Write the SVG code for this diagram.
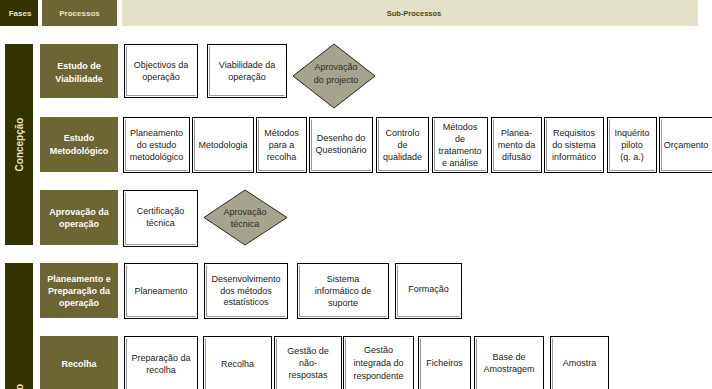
<svg xmlns="http://www.w3.org/2000/svg" width="712" height="389" viewBox="0 0 712 389">
<style>
.ph{fill:#333300}
.pr{fill:#6b6633}
.b{fill:#fff;stroke:#000;stroke-width:1}
.sh{fill:none;stroke:#999;stroke-width:1}
.d{fill:#a6a48e;stroke:#2a2a1a;stroke-width:1}
text{font-family:"Liberation Sans",Arial,sans-serif;text-anchor:middle}
.t{font-size:9px;fill:#222}
.dt{font-size:9px;fill:#2a2a2a}
.pl{font-size:9px;font-weight:bold;fill:#fff}
.ht{font-size:8px;font-weight:bold;fill:#e6e4c8}
.hs{font-size:7.5px;font-weight:bold;fill:#4a4920}
.pt{font-size:10px;font-weight:bold;fill:#e6e4c8}
</style>
<g id="header">
<rect class="ph" x="0" y="0" width="38" height="26"/>
<text class="ht" x="20" y="16">Fases</text>
<rect class="pr" x="42" y="0" width="75" height="26"/>
<text class="ht" x="79.5" y="16">Processos</text>
<rect x="122" y="0" width="576" height="26" fill="#e2e0c6"/>
<text class="hs" x="414" y="16">Sub-Processos</text>
</g>
<g id="phase-concepcao">
<rect class="ph" x="5" y="44" width="28" height="201"/>
<text class="pt" transform="translate(23,144.5) rotate(-90)">Concepção</text>
</g>
<g id="phase-2">
<rect class="ph" x="5" y="263" width="28" height="140"/>
<text class="pt" style="text-anchor:start" transform="translate(23,390) rotate(-90)">o</text>
</g>
<g id="p-viab"><rect class="pr" x="40" y="44" width="78" height="54"/><text class="pl" x="79" y="68.5">Estudo de</text><text class="pl" x="79" y="82">Viabilidade</text></g>
<g id="p-metod"><rect class="pr" x="40" y="117" width="78" height="55"/><text class="pl" x="79" y="141">Estudo</text><text class="pl" x="79" y="154">Metodológico</text></g>
<g id="p-aprov"><rect class="pr" x="40" y="190" width="78" height="55"/><text class="pl" x="79" y="215">Aprovação da</text><text class="pl" x="79" y="227">operação</text></g>
<g id="p-plan"><rect class="pr" x="40" y="263" width="78" height="55"/><text class="pl" x="79" y="282">Planeamento e</text><text class="pl" x="79" y="294">Preparação da</text><text class="pl" x="79" y="305.5">operação</text></g>
<g id="p-recolha"><rect class="pr" x="40" y="336" width="78" height="60"/><text class="pl" x="79" y="367">Recolha</text></g>

<g id="s-objectivos"><rect class="b" x="124.5" y="44.5" width="73" height="53"/><path class="sh" d="M126.5,46.5V95.5H195.5"/><text class="t" x="161" y="68">Objectivos da</text><text class="t" x="161" y="80">operação</text></g>
<g id="s-viabilidade"><rect class="b" x="207.5" y="44.5" width="79" height="53"/><path class="sh" d="M209.5,46.5V95.5H284.5"/><text class="t" x="247" y="68">Viabilidade da</text><text class="t" x="247" y="80">operação</text></g>
<g id="s-aprov-projecto"><polygon class="d" points="293,76 334,44 375,76 334,108"/><text class="dt" x="336" y="70">Aprovação</text><text class="dt" x="336" y="83">do projecto</text></g>

<g id="s-planeamento-estudo"><rect class="b" x="123.5" y="117.5" width="66" height="55"/><path class="sh" d="M125.5,119.5V170.5H187.5"/><text class="t" x="156.5" y="136">Planeamento</text><text class="t" x="156.5" y="148">do estudo</text><text class="t" x="156.5" y="160">metodológico</text></g>
<g id="s-metodologia"><rect class="b" x="192.5" y="117.5" width="61" height="55"/><path class="sh" d="M194.5,119.5V170.5H251.5"/><text class="t" x="223" y="148">Metodologia</text></g>
<g id="s-metodos-recolha"><rect class="b" x="256.5" y="117.5" width="50" height="55"/><path class="sh" d="M258.5,119.5V170.5H304.5"/><text class="t" x="281.5" y="136">Métodos</text><text class="t" x="281.5" y="148">para a</text><text class="t" x="281.5" y="160">recolha</text></g>
<g id="s-desenho"><rect class="b" x="309.5" y="117.5" width="63" height="55"/><path class="sh" d="M311.5,119.5V170.5H370.5"/><text class="t" x="341" y="141">Desenho do</text><text class="t" x="341" y="153">Questionário</text></g>
<g id="s-controlo"><rect class="b" x="376.5" y="117.5" width="52" height="55"/><path class="sh" d="M378.5,119.5V170.5H426.5"/><text class="t" x="402.5" y="136">Controlo</text><text class="t" x="402.5" y="148">de</text><text class="t" x="402.5" y="160">qualidade</text></g>
<g id="s-tratamento"><rect class="b" x="432.5" y="117.5" width="55" height="55"/><path class="sh" d="M434.5,119.5V170.5H485.5"/><text class="t" x="460" y="130">Métodos</text><text class="t" x="460" y="142">de</text><text class="t" x="460" y="154">tratamento</text><text class="t" x="460" y="166">e análise</text></g>
<g id="s-difusao"><rect class="b" x="491.5" y="117.5" width="50" height="55"/><path class="sh" d="M493.5,119.5V170.5H539.5"/><text class="t" x="516.5" y="136">Planea-</text><text class="t" x="516.5" y="148">mento da</text><text class="t" x="516.5" y="160">difusão</text></g>
<g id="s-requisitos"><rect class="b" x="544.5" y="117.5" width="59" height="55"/><path class="sh" d="M546.5,119.5V170.5H601.5"/><text class="t" x="574" y="136">Requisitos</text><text class="t" x="574" y="148">do sistema</text><text class="t" x="574" y="160">informático</text></g>
<g id="s-piloto"><rect class="b" x="607.5" y="117.5" width="49" height="55"/><path class="sh" d="M609.5,119.5V170.5H654.5"/><text class="t" x="632" y="136">Inquérito</text><text class="t" x="632" y="148">piloto</text><text class="t" x="632" y="160">(q. a.)</text></g>
<g id="s-orcamento"><rect class="b" x="659.5" y="117.5" width="60" height="55"/><path class="sh" d="M661.5,119.5V170.5H717"/><text class="t" x="686" y="148">Orçamento</text></g>

<g id="s-certificacao"><rect class="b" x="123.5" y="190.5" width="74" height="56"/><path class="sh" d="M125.5,192.5V244.5H195.5"/><text class="t" x="160.5" y="214">Certificação</text><text class="t" x="160.5" y="226">técnica</text></g>
<g id="s-aprov-tecnica"><polygon class="d" points="204,217.5 245,190 287,217.5 245,245"/><text class="dt" x="245" y="215">Aprovação</text><text class="dt" x="245" y="227">técnica</text></g>

<g id="s-planeamento"><rect class="b" x="124.5" y="263.5" width="73" height="55"/><path class="sh" d="M126.5,265.5V316.5H195.5"/><text class="t" x="161" y="294">Planeamento</text></g>
<g id="s-desenvolvimento"><rect class="b" x="204.5" y="263.5" width="83" height="55"/><path class="sh" d="M206.5,265.5V316.5H285.5"/><text class="t" x="246" y="282">Desenvolvimento</text><text class="t" x="246" y="293.5">dos métodos</text><text class="t" x="246" y="305">estatísticos</text></g>
<g id="s-sistema"><rect class="b" x="297.5" y="263.5" width="91" height="55"/><path class="sh" d="M299.5,265.5V316.5H386.5"/><text class="t" x="343" y="282">Sistema</text><text class="t" x="343" y="294">informático de</text><text class="t" x="343" y="305.5">suporte</text></g>
<g id="s-formacao"><rect class="b" x="395.5" y="263.5" width="66" height="55"/><path class="sh" d="M397.5,265.5V316.5H459.5"/><text class="t" x="428.5" y="292">Formação</text></g>

<g id="s-prep-recolha"><rect class="b" x="124.5" y="336.5" width="73" height="70"/><path class="sh" d="M126.5,338.5V404"/><text class="t" x="161" y="361">Preparação da</text><text class="t" x="161" y="373">recolha</text></g>
<g id="s-recolha"><rect class="b" x="203.5" y="336.5" width="68" height="70"/><path class="sh" d="M205.5,338.5V404"/><text class="t" x="237.5" y="367">Recolha</text></g>
<g id="s-nao-respostas"><rect class="b" x="274.5" y="336.5" width="67" height="70"/><path class="sh" d="M276.5,338.5V404"/><text class="t" x="308" y="354">Gestão de</text><text class="t" x="308" y="366">não-</text><text class="t" x="308" y="378">respostas</text></g>
<g id="s-respondente"><rect class="b" x="343.5" y="336.5" width="70" height="70"/><path class="sh" d="M345.5,338.5V404"/><text class="t" x="378.5" y="353">Gestão</text><text class="t" x="378.5" y="366">integrada do</text><text class="t" x="378.5" y="379">respondente</text></g>
<g id="s-ficheiros"><rect class="b" x="418.5" y="336.5" width="52" height="70"/><path class="sh" d="M420.5,338.5V404"/><text class="t" x="444.5" y="366">Ficheiros</text></g>
<g id="s-base"><rect class="b" x="474.5" y="336.5" width="69" height="70"/><path class="sh" d="M476.5,338.5V404"/><text class="t" x="509" y="360">Base de</text><text class="t" x="509" y="372">Amostragem</text></g>
<g id="s-amostra"><rect class="b" x="550.5" y="336.5" width="58" height="70"/><path class="sh" d="M552.5,338.5V404"/><text class="t" x="579.5" y="366">Amostra</text></g>
<g id="connectors"/>
</svg>
